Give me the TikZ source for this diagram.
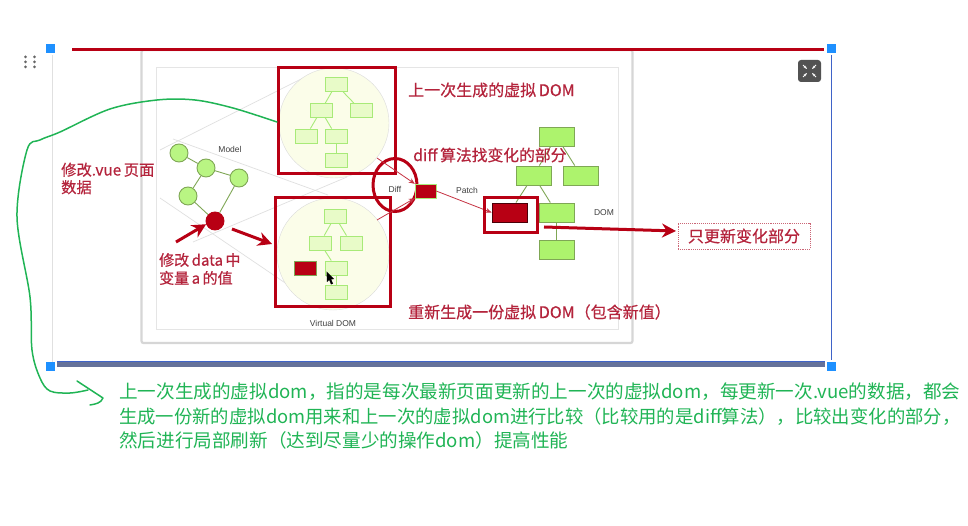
\documentclass[tikz,border=0pt]{standalone}
\usepackage{fontspec}
\usepackage{xcolor}
\setmainfont{Noto Sans CJK SC}
\newfontfamily\latinfont{Liberation Sans}
\newfontfamily\redfont[FakeBold=0.5]{Noto Sans CJK SC}
\usetikzlibrary{
  arrows.meta,
  shapes,
  shapes.geometric,
  positioning
}
\definecolor{dmRed}{HTML}{B80014}
\definecolor{dmText}{HTML}{B4243C}
\definecolor{dmGreen}{HTML}{ADF36D}
\definecolor{dmEdge}{HTML}{7FA755}
\definecolor{dmPale}{HTML}{E8FBC8}
\definecolor{dmPaleEdge}{HTML}{A8EA78}
\definecolor{dmCircle}{HTML}{FBFDE9}
\definecolor{dmNote}{HTML}{20B455}
\definecolor{dmHandle}{HTML}{1E90FF}
\definecolor{dmBlue}{HTML}{3F63C8}
\tikzset{
  handle/.style={draw=none, fill=dmHandle, minimum size=9pt, inner sep=0pt},
  card/.style={draw=black!16, line width=2.2pt, fill=white, rounded corners=2pt, minimum width=491pt, minimum height=293pt, inner sep=0pt},
  frame/.style={draw=black!10, line width=0.8pt, fill=white, minimum width=462pt, minimum height=262pt, inner sep=0pt},
  vcircle/.style={circle, draw=black!14, fill=dmCircle, inner sep=0pt},
  vnode/.style={draw=dmPaleEdge, line width=0.9pt, fill=dmPale, minimum width=22pt, minimum height=14pt, inner sep=0pt},
  vred/.style={vnode, draw=dmEdge, fill=dmRed},
  dnode/.style={draw=dmEdge, line width=0.9pt, fill=dmGreen, minimum width=35pt, minimum height=19pt, inner sep=0pt},
  dred/.style={dnode, draw=black!60!dmRed, fill=dmRed},
  mnode/.style={circle, draw=dmEdge, line width=0.9pt, fill=dmGreen!85!white, minimum size=18pt, inner sep=0pt},
  mred/.style={mnode, draw=dmRed, fill=dmRed},
  redbox/.style={draw=dmRed, line width=3pt, inner sep=0pt},
  vedge/.style={dmPaleEdge, line width=0.9pt},
  dedge/.style={dmEdge, line width=0.9pt},
  faint/.style={black!12, line width=0.7pt},
  bigarrow/.style={-{Stealth[length=14pt, width=14pt]}, line width=3pt, dmRed},
  thinarrow/.style={-{Stealth[length=6pt, width=5pt]}, line width=0.8pt, dmRed!80},
  redtext/.style={text=dmText, font=\fontsize{16}{18}\redfont, align=left, inner sep=0pt, anchor=west},
  smalltext/.style={text=black!75, font=\fontsize{8.5}{10}\selectfont\latinfont, inner sep=0pt},
  notetext/.style={text=dmNote, font=\fontsize{18.6}{24.2}\selectfont, align=left, inner sep=0pt, anchor=north west},
  noteline/.style={dmNote, line width=1.5pt, line cap=round, line join=round},
  griddot/.style={circle, fill=black!60, minimum size=3pt, inner sep=0pt}
}
\begin{document}
\begin{tikzpicture}[x=1pt, y=-1pt]
  \useasboundingbox (0,0) rectangle (968,526);
  % image card
  \node[card] (imgcard) at (387,196.5) {};
  \node[frame] (imgframe) at (387,198) {};
  % perspective lines
  \draw[faint] (160,150) -- (313,73);
  \draw[faint] (173,139) -- (328,195);
  \draw[faint] (160,198) -- (300,293);
  \draw[faint] (193,242) -- (347,177);
  % editor outline
  \draw[black!12, line width=0.8pt] (52.5,55) -- (52.5,362);
  \draw[dmBlue, line width=1pt] (831,55) -- (831,360);
  \draw[dmRed, line width=3pt] (72,49.5) -- (824,49.5);
  \fill[black!45!dmBlue!70!white] (57,362) rectangle (825,367);
  \draw[dmBlue, line width=1pt] (57,361.5) -- (825,361.5);
  \node[handle] (handleNW) at (50.5,48.5) {};
  \node[handle] (handleNE) at (831.5,48.5) {};
  \node[handle] (handleSW) at (50.5,366.5) {};
  \node[handle] (handleSE) at (831.5,366.5) {};
  % drag dots
  \node[griddot] (dotA) at (25.5,57) {};
  \node[griddot] (dotB) at (34.5,57) {};
  \node[griddot] (dotC) at (25.5,62) {};
  \node[griddot] (dotD) at (34.5,62) {};
  \node[griddot] (dotE) at (25.5,67) {};
  \node[griddot] (dotF) at (34.5,67) {};
  % fullscreen button
  \node[draw=none, fill=black!68, rounded corners=3pt, minimum width=23pt, minimum height=22pt, inner sep=0pt] (fullbtn) at (809.5,71) {};
  \draw[-{Stealth[length=3.5pt]}, white, line width=1pt] (803,65) -- (807,69);
  \draw[-{Stealth[length=3.5pt]}, white, line width=1pt] (816,65) -- (812,69);
  \draw[-{Stealth[length=3.5pt]}, white, line width=1pt] (803,77) -- (807,73);
  \draw[-{Stealth[length=3.5pt]}, white, line width=1pt] (816,77) -- (812,73);
  % model
  \node[mnode] (ma) at (179,153) {};
  \node[mnode] (mb) at (206,168) {};
  \node[mnode] (mc) at (239,178) {};
  \node[mnode] (md) at (188,196) {};
  \node[mred] (me) at (215,221) {};
  \draw[dedge] (ma) -- (mb);
  \draw[dedge] (mb) -- (mc);
  \draw[dedge] (mb) -- (md);
  \draw[dedge] (md) -- (me);
  \draw[dedge] (mc) -- (me);
  \node[smalltext] (modellabel) at (230,149) {Model};
  % upper virtual dom
  \node[vcircle, minimum size=110pt] (ucircle) at (334,123) {};
  \node[vnode] (ua) at (336,84.5) {};
  \node[vnode] (ub) at (321,110.5) {};
  \node[vnode] (uc) at (361,110.5) {};
  \node[vnode] (ud) at (306,136) {};
  \node[vnode] (ue) at (336,136) {};
  \node[vnode] (uf) at (336,160.5) {};
  \draw[vedge] (ua) -- (ub);
  \draw[vedge] (ua) -- (uc);
  \draw[vedge] (ub) -- (ud);
  \draw[vedge] (ub) -- (ue);
  \draw[vedge] (ue) -- (uf);
  \node[redbox, minimum width=117pt, minimum height=106pt] (ubox) at (336.5,121) {};
  % lower virtual dom
  \node[vcircle, minimum size=112pt] (lcircle) at (333,254) {};
  \node[vnode] (la) at (335,216.5) {};
  \node[vnode] (lb) at (320,243) {};
  \node[vnode] (lc) at (351,243) {};
  \node[vred] (ld) at (305,268) {};
  \node[vnode] (le) at (336,268) {};
  \node[vnode] (lf) at (336,292.5) {};
  \draw[vedge] (la) -- (lb);
  \draw[vedge] (la) -- (lc);
  \draw[vedge] (lb) -- (le);
  \draw[vedge] (le) -- (lf);
  \node[redbox, minimum width=115pt, minimum height=109pt] (lbox) at (332.5,252) {};
  \fill[black] (326.5,271.5) -- (327,282) -- (329.3,280) -- (331,284.5) -- (333,283.5) -- (331.2,279.5) -- (334,279) -- cycle;
  \node[smalltext] (vdomlabel) at (333,323) {Virtual DOM};
  % diff
  \node[draw=dmRed, line width=3pt, ellipse, minimum width=44pt, minimum height=53pt, inner sep=0pt] (diffring) at (395,185) {};
  \node[smalltext] (difflabel) at (395,189) {Diff};
  \node[draw=dmPaleEdge, fill=dmRed, minimum width=21pt, minimum height=14pt, inner sep=0pt] (diffbox) at (425.5,191) {};
  \coordinate (diffupper) at (377,158);
  \coordinate (difflower) at (377,220);
  \draw[thinarrow] (diffupper) -- (diffbox.north west);
  \draw[thinarrow] (difflower) -- (diffbox.south west);
  % real dom
  \node[dnode] (da) at (556.5,136.5) {};
  \node[dnode] (db) at (533.5,175.5) {};
  \node[dnode] (dc) at (581,175.5) {};
  \node[dred] (dd) at (509.5,212.5) {};
  \node[dnode] (de) at (556.5,212.5) {};
  \node[dnode] (df) at (556.5,249.5) {};
  \draw[dedge] (da) -- (db);
  \draw[dedge] (da) -- (dc);
  \draw[dedge] (db) -- (dd);
  \draw[dedge] (db) -- (de);
  \draw[dedge] (de) -- (df);
  \node[smalltext] (domlabel) at (604,213) {DOM};
  \node[smalltext] (patchlabel) at (467,190) {Patch};
  \draw[thinarrow] (diffbox.east) -- (dd.west);
  \node[redbox, minimum width=53pt, minimum height=35pt] (patchbox) at (510.5,215.5) {};
  % red labels
  \node[redtext] (lblprev) at (408,90) {上一次生成的虚拟\,DOM};
  \node[redtext, font=\fontsize{15.8}{18}\redfont] (lbldiff) at (413,155) {diff\,算法找变化的部分};
  \node[redtext] (lblnew) at (408,312) {重新生成一份虚拟\,DOM（包含新值）};
  \node[redtext, font=\fontsize{15.3}{17.5}\redfont] (lblvue) at (61,178.5) {修改.vue\,页面\\数据};
  \node[redtext, font=\fontsize{15}{18}\redfont] (lbldata) at (159,269) {修改\,data\,中\\变量\,a\,的值};
  \node[draw=dmText!70, densely dotted, line width=0.9pt, minimum width=132pt, minimum height=26pt, inner sep=0pt, text=dmText, font=\fontsize{16}{18}\redfont] (lblonly) at (744,236) {只更新变化部分};
  % red arrows
  \coordinate (arrowdata) at (176,242);
  \coordinate (arrowtree) at (232,229);
  \coordinate (arrowtreeend) at (272,244);
  \coordinate (arrowdom) at (544,227);
  \coordinate (arrowdomend) at (676,231);
  \draw[bigarrow] (arrowdata) -- (me.200);
  \draw[bigarrow] (arrowtree) -- (arrowtreeend);
  \draw[bigarrow] (arrowdom) -- (arrowdomend);
  % handwritten note
  \coordinate (curvestart) at (277,122);
  \coordinate (curvejoin) at (88,390);
  \coordinate (hookstart) at (77,381);
  \coordinate (hooktip) at (103,398);
  \coordinate (hookend) at (90,405);
  \draw[noteline] plot[smooth, tension=0.55] coordinates {(curvestart) (233,108) (195,100) (157,100) (110,109) (60,132) (40,140) (27,150) (17,217) (30,297) (32,350) (40,378) (50,391) (70,393) (curvejoin)};
  \draw[noteline] (hookstart) -- (hooktip) .. controls (101,403) and (96,404) .. (hookend);
  \node[notetext] (notebody) at (119,383) {上一次生成的虚拟dom，指的是每次最新页面更新的上一次的虚拟dom，每更新一次.vue的数据，都会\\{\fontsize{18.35}{24.2}\selectfont 生成一份新的虚拟dom用来和上一次的虚拟dom进行比较（比较用的是diff算法），比较出变化的部分，}\\然后进行局部刷新（达到尽量少的操作dom）提高性能};
\end{tikzpicture}
\end{document}
